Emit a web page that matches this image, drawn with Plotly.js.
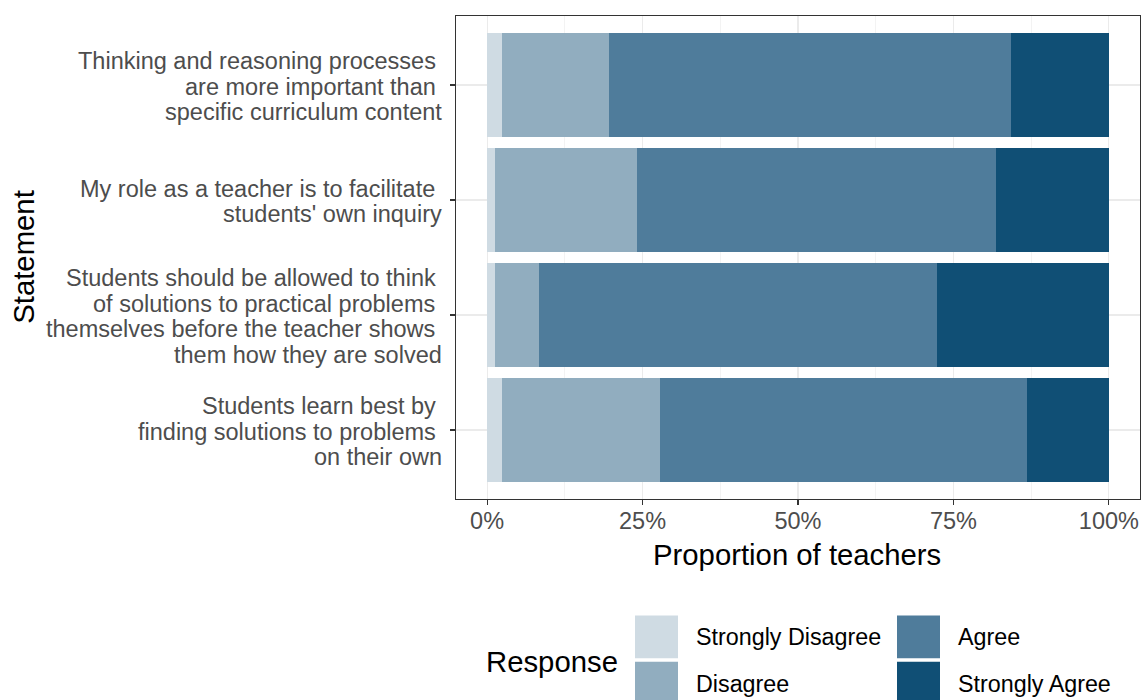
<!DOCTYPE html>
<html>
<head>
<meta charset="utf-8">
<script src="https://cdn.plot.ly/plotly-3.0.1.min.js"></script>
<style>html,body{margin:0;padding:0;background:#fff;}#chart{width:1142px;height:700px;}</style>
</head>
<body>
<div id="chart"></div>
<script>
// ---- data ----
const statements = [
  "Thinking and reasoning processes are more important than specific curriculum content",
  "My role as a teacher is to facilitate students' own inquiry",
  "Students should be allowed to think of solutions to practical problems themselves before the teacher shows them how they are solved",
  "Students learn best by finding solutions to problems on their own"
];
const statementLines = [
  ["Thinking and reasoning processes\u00a0", "are more important than\u00a0", "specific curriculum content"],
  ["My role as a teacher is to facilitate\u00a0", "students' own inquiry"],
  ["Students should be allowed to think\u00a0", "of solutions to practical problems\u00a0", "themselves before the teacher shows\u00a0", "them how they are solved"],
  ["Students learn best by\u00a0", "finding solutions to problems\u00a0", "on their own"]
];
const responses = ["Strongly Disagree", "Disagree", "Agree", "Strongly Agree"];
const stronglyDisagree = [2.4, 1.2, 1.2, 2.4];
const disagree = [17.2, 22.9, 7.2, 25.4];
const agree = [64.6, 57.8, 64.0, 59.0];
const stronglyAgree = [15.8, 18.1, 27.6, 13.2];
const xTickVals = [0, 25, 50, 75, 100];
const xTickText = ["0%", "25%", "50%", "75%", "100%"];
const colors = ["#cfdbe3", "#91adbf", "#4f7c9b", "#104f75"];

// ---- geometry helpers (layout only) ----
const L = 456, R = 2, T = 16, B = 200.5, W = 1142, H = 700;
const pw = W - L - R, ph = H - T - B;
const px = x => (x - L) / pw;
const py = y => (H - B - y) / ph;
const FONT = '"Liberation Sans", Arial, Helvetica, sans-serif';

const series = [stronglyDisagree, disagree, agree, stronglyAgree];
const traces = responses.map((name, i) => ({
  type: 'bar', orientation: 'h', name: name,
  y: statements, x: series[i],
  width: 0.9,
  marker: {color: colors[i], line: {width: 0}},
  showlegend: false,
  hovertemplate: '%{y}<br>' + name + ': %{x}%<extra></extra>'
}));

const annotations = [];
const shapes = [];
statements.forEach((s, ci) => {
  const lines = statementLines[ci];
  const n = lines.length;
  lines.forEach((ln, li) => {
    annotations.push({
      xref: 'paper', yref: 'y', x: 0, y: s,
      xanchor: 'right', yanchor: 'middle', xshift: -13,
      yshift: ((n - 1) / 2 - li) * 25.5 - 1.5,
      text: ln, showarrow: false, borderpad: 0,
      font: {family: FONT, size: 23.5, color: '#4d4d4d'}
    });
  });
});

// axis titles
annotations.push({
  xref: 'paper', yref: 'paper', x: px(797), y: py(555),
  xanchor: 'center', yanchor: 'middle', showarrow: false,
  text: 'Proportion of teachers',
  font: {family: FONT, size: 29.3, color: '#000'}
});
annotations.push({
  xref: 'paper', yref: 'paper', x: px(24), y: py(257),
  xanchor: 'center', yanchor: 'middle', showarrow: false, textangle: -90,
  text: 'Statement',
  font: {family: FONT, size: 29.3, color: '#000'}
});

// custom legend
annotations.push({
  xref: 'paper', yref: 'paper', x: px(484), y: py(662),
  xanchor: 'left', yanchor: 'middle', showarrow: false,
  text: 'Response',
  font: {family: FONT, size: 29.3, color: '#000'}
});
responses.forEach((name, i) => {
  const col = Math.floor(i / 2), row = i % 2;
  const kx = 635 + col * 262, ky = 616 + row * 46.5;
  shapes.push({
    type: 'rect', xref: 'paper', yref: 'paper',
    x0: px(kx), x1: px(kx + 43), y0: py(ky), y1: py(ky + 43),
    fillcolor: colors[i], line: {width: 0}
  });
  annotations.push({
    xref: 'paper', yref: 'paper', x: px(kx + 59), y: py(ky + 22),
    xanchor: 'left', yanchor: 'middle', showarrow: false,
    text: name,
    font: {family: FONT, size: 23.3, color: '#000'}
  });
});

const layout = {
  width: W, height: H,
  margin: {l: L, r: R, t: T, b: B, pad: 0},
  paper_bgcolor: '#fff', plot_bgcolor: '#fff',
  barmode: 'stack', bargap: 0.1,
  font: {family: FONT, color: '#4d4d4d'},
  xaxis: {
    range: [-5, 105], tickvals: xTickVals, ticktext: xTickText,
    showgrid: true, gridcolor: '#ebebeb', gridwidth: 1.1,
    minor: {dtick: 12.5, tick0: 0, showgrid: true, gridcolor: '#ebebeb', gridwidth: 0.6},
    showline: true, mirror: true, linecolor: '#333333', linewidth: 1.1,
    ticks: 'outside', ticklen: 5, tickwidth: 1.1, tickcolor: '#333333',
    ticklabelstandoff: -4,
    tickfont: {family: FONT, size: 23.5, color: '#4d4d4d'},
    zeroline: false, fixedrange: true
  },
  yaxis: {
    type: 'category', range: [3.6, -0.6],
    showticklabels: false,
    showgrid: true, gridcolor: '#ebebeb', gridwidth: 1.1,
    showline: true, mirror: true, linecolor: '#333333', linewidth: 1.1,
    ticks: 'outside', ticklen: 5, tickwidth: 1.1, tickcolor: '#333333',
    zeroline: false, fixedrange: true
  },
  annotations: annotations,
  shapes: shapes,
  showlegend: false
};

Plotly.newPlot('chart', traces, layout, {displayModeBar: false, staticPlot: true});
</script>
</body>
</html>
